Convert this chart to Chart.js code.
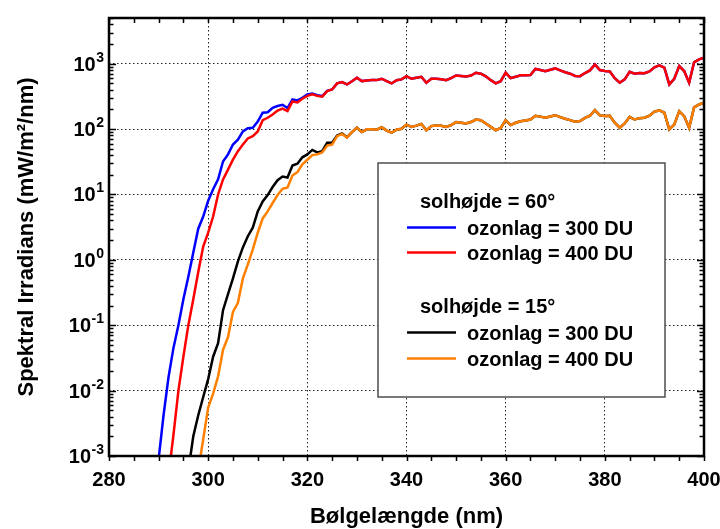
<!DOCTYPE html>
<html>
<head>
<meta charset="utf-8">
<script src="https://cdn.jsdelivr.net/npm/chart.js@4/dist/chart.umd.min.js"></script>
<style>
  html, body { margin: 0; padding: 0; background: #fff; }
  canvas { display: block; }
</style>
</head>
<body>
<canvas id="chart" width="720" height="529"></canvas>
<script>
// wavelength grid (nm)
const wavelengths = [
  290, 291, 292, 293, 294, 295, 296, 297, 298, 299,
  300, 301, 302, 303, 304, 305, 306, 307, 308, 309,
  310, 311, 312, 313, 314, 315, 316, 317, 318, 319,
  320, 321, 322, 323, 324, 325, 326, 327, 328, 329,
  330, 331, 332, 333, 334, 335, 336, 337, 338, 339,
  340, 341, 342, 343, 344, 345, 346, 347, 348, 349,
  350, 351, 352, 353, 354, 355, 356, 357, 358, 359,
  360, 361, 362, 363, 364, 365, 366, 367, 368, 369,
  370, 371, 372, 373, 374, 375, 376, 377, 378, 379,
  380, 381, 382, 383, 384, 385, 386, 387, 388, 389,
  390, 391, 392, 393, 394, 395, 396, 397, 398, 399,
  400
];

// solhøjde 60°, ozonlag 300 DU (blue)
const sun60oz300 = [
  0.00088, 0.0042, 0.016, 0.045, 0.1, 0.25, 0.55, 1.3, 3.0, 4.6,
  8.0, 12, 17, 32, 41, 58, 69, 92, 103, 105,
  130, 178, 181, 212, 225, 235, 210, 284, 275, 301,
  339, 351, 330, 320, 385, 404, 500, 523, 482, 540,
  611, 542, 555, 561, 561, 589, 540, 499, 560, 575,
  646, 589, 610, 631, 512, 589, 589, 580, 560, 600,
  662, 650, 635, 660, 728, 703, 640, 560, 500, 540,
  728, 600, 630, 665, 668, 672, 830, 800, 770, 810,
  847, 790, 740, 703, 650, 645, 720, 790, 976, 800,
  771, 760, 600, 512, 575, 753, 703, 720, 715, 760,
  880, 943, 869, 482, 589, 919, 771, 512, 1050, 1164,
  1236
];

// solhøjde 60°, ozonlag 400 DU (red)
const sun60oz400 = [
  null, null, 0.0005, 0.0021, 0.01, 0.033, 0.1, 0.25, 0.65, 1.6,
  2.6, 4.6, 10, 17, 24, 34, 46, 58, 72, 78,
  92, 137, 149, 167, 192, 205, 188, 265, 255, 291,
  322, 340, 322, 313, 380, 404, 500, 523, 482, 540,
  611, 542, 555, 561, 561, 589, 540, 499, 560, 575,
  646, 589, 610, 631, 512, 589, 589, 580, 560, 600,
  662, 650, 635, 660, 728, 703, 640, 560, 500, 540,
  728, 600, 630, 665, 668, 672, 830, 800, 770, 810,
  847, 790, 740, 703, 650, 645, 720, 790, 976, 800,
  771, 760, 600, 512, 575, 753, 703, 720, 715, 760,
  880, 943, 869, 482, 589, 919, 771, 512, 1050, 1164,
  1236
];

// solhøjde 15°, ozonlag 300 DU (black)
const sun15oz300 = [
  null, null, null, null, null, null, 0.0006, 0.002, 0.0042, 0.008,
  0.015, 0.033, 0.053, 0.17, 0.3, 0.52, 0.95, 1.55, 2.3, 3.1,
  5.5, 7.8, 9.8, 13, 16.5, 18.8, 18.2, 27.7, 29.5, 37,
  41, 48, 44, 46, 62, 62, 80, 86, 75, 90,
  105, 90, 99, 99, 98, 107, 95, 88, 98, 101,
  117, 108, 113, 120, 96, 111, 113, 112, 108, 115,
  128, 125, 122, 128, 140, 137, 122, 108, 96, 104,
  137, 115, 125, 132, 135, 140, 160, 155, 149, 156,
  163, 152, 144, 137, 130, 133, 148, 160, 195, 162,
  158, 160, 125, 105, 122, 154, 140, 147, 149, 160,
  185, 193, 178, 99, 117, 188, 158, 105, 215, 238,
  253
];

// solhøjde 15°, ozonlag 400 DU (orange)
const sun15oz400 = [
  null, null, null, null, null, null, null, null, 0.0006, 0.0018,
  0.0055, 0.009, 0.0166, 0.042, 0.066, 0.16, 0.22, 0.52, 0.85, 1.45,
  2.6, 4.3, 5.5, 7.4, 9.8, 12.2, 12.8, 19.5, 22, 29,
  34, 40, 41, 44, 56, 58, 78, 84, 74, 90,
  105, 90, 99, 99, 98, 107, 95, 88, 98, 101,
  117, 108, 113, 120, 96, 111, 113, 112, 108, 115,
  128, 125, 122, 128, 140, 137, 122, 108, 96, 104,
  137, 115, 125, 132, 135, 140, 160, 155, 149, 156,
  163, 152, 144, 137, 130, 133, 148, 160, 195, 162,
  158, 160, 125, 105, 122, 154, 140, 147, 149, 160,
  185, 193, 178, 99, 117, 188, 158, 105, 215, 238,
  253
];

const xTicks = [280, 300, 320, 340, 360, 380, 400];
const yTicks = [0.001, 0.01, 0.1, 1, 10, 100, 1000];
const legendTitles = ['solhøjde = 60°', 'solhøjde = 15°'];
const seriesLabels = ['ozonlag = 300 DU', 'ozonlag = 400 DU', 'ozonlag = 300 DU', 'ozonlag = 400 DU'];
const seriesColors = ['#0000ff', '#ff0000', '#000000', '#ff8000'];

const FONT = '"Liberation Sans", Arial, Helvetica, sans-serif';

function toPoints(values) {
  return wavelengths
    .map((w, i) => ({ x: w, y: values[i] }))
    .filter(p => p.y !== null);
}

// frame, inside/outside tick marks and 10^n labels
const framePlugin = {
  id: 'frame',
  afterDraw(chart) {
    const { ctx, chartArea: a, scales } = chart;
    const xs = scales.x, ys = scales.y;
    ctx.save();
    ctx.strokeStyle = '#000';
    ctx.lineWidth = 1.5;

    // x ticks every 5 nm: out at bottom, in at top
    for (let v = 280; v <= 400; v += 5) {
      const px = Math.round(xs.getPixelForValue(v)) + 0.5;
      const len = 5;
      ctx.beginPath();
      ctx.moveTo(px, a.bottom); ctx.lineTo(px, a.bottom + len);
      ctx.moveTo(px, a.top); ctx.lineTo(px, a.top + len);
      ctx.stroke();
    }

    // log ticks on both y sides, pointing in
    for (const d of yTicks) {
      for (let k = 1; k <= 9; k++) {
        const v = d * k;
        if (v > ys.max) break;
        const py = Math.round(ys.getPixelForValue(v)) + 0.5;
        const len = k === 1 ? 7 : 4.5;
        ctx.beginPath();
        ctx.moveTo(a.left, py); ctx.lineTo(a.left + len, py);
        ctx.moveTo(a.right, py); ctx.lineTo(a.right - len, py);
        ctx.stroke();
      }
    }

    ctx.lineWidth = 2.5;
    ctx.strokeRect(a.left, a.top, a.right - a.left, a.bottom - a.top);

    // y tick labels with superscript exponents
    ctx.fillStyle = '#000';
    ctx.textAlign = 'right';
    ctx.textBaseline = 'alphabetic';
    for (const v of yTicks) {
      const py = ys.getPixelForValue(v);
      const exp = String(Math.round(Math.log10(v)));
      ctx.font = 'bold 14px ' + FONT;
      const right = a.left - 5;
      ctx.fillText(exp, right, py - 2);
      const ew = ctx.measureText(exp).width;
      ctx.font = 'bold 20px ' + FONT;
      ctx.fillText('10', right - ew - 0.5, py + 7);
    }
    ctx.restore();
  }
};

// grouped legend box
const legendPlugin = {
  id: 'groupLegend',
  afterDraw(chart) {
    const ctx = chart.ctx;
    ctx.save();
    ctx.fillStyle = '#fff';
    ctx.fillRect(378, 163, 287, 234);
    ctx.strokeStyle = '#4d4d4d';
    ctx.lineWidth = 1.5;
    ctx.strokeRect(378, 163, 287, 234);

    ctx.font = 'bold 20px ' + FONT;
    ctx.textAlign = 'left';
    ctx.textBaseline = 'alphabetic';
    const groups = [
      { title: 0, base: 208, rows: [[0, 235], [1, 260]] },
      { title: 1, base: 313, rows: [[2, 340], [3, 366]] }
    ];
    for (const g of groups) {
      ctx.fillStyle = '#000';
      ctx.fillText(legendTitles[g.title], 420, g.base);
      for (const [i, b] of g.rows) {
        ctx.strokeStyle = seriesColors[i];
        ctx.lineWidth = 2.5;
        ctx.beginPath();
        ctx.moveTo(407, b - 7.5);
        ctx.lineTo(456, b - 7.5);
        ctx.stroke();
        ctx.fillStyle = '#000';
        ctx.fillText(seriesLabels[i], 467, b);
      }
    }
    ctx.restore();
  }
};

const seriesData = [sun60oz300, sun60oz400, sun15oz300, sun15oz400];
// lower order draws on top: red over blue, orange over black
const drawOrder = [1, 0, 1, 0];

new Chart(document.getElementById('chart'), {
  type: 'line',
  data: {
    datasets: seriesData.map((vals, i) => ({
      label: seriesLabels[i],
      data: toPoints(vals),
      borderColor: seriesColors[i],
      borderWidth: 2.5,
      pointRadius: 0,
      tension: 0,
      fill: false,
      order: drawOrder[i]
    }))
  },
  options: {
    responsive: false,
    animation: false,
    devicePixelRatio: 1,
    layout: { padding: { left: 0, top: 18, right: 16, bottom: 0 } },
    plugins: { legend: { display: false }, tooltip: { enabled: false } },
    scales: {
      x: {
        type: 'linear',
        min: 280,
        max: 400,
        afterBuildTicks: axis => { axis.ticks = xTicks.map(v => ({ value: v })); },
        afterFit: axis => { axis.height = 73; axis.paddingLeft = 0; axis.paddingRight = 0; },
        ticks: {
          color: '#000',
          font: { family: FONT, size: 20, weight: 'bold' },
          padding: 12,
          maxRotation: 0,
          autoSkip: false
        },
        grid: { color: '#222', lineWidth: 1, drawTicks: false },
        border: { display: false, dash: [1.5, 2.5] },
        title: {
          display: true,
          text: 'Bølgelængde (nm)',
          color: '#000',
          font: { family: FONT, size: 22, weight: 'bold' },
          padding: { top: 0, bottom: -1 }
        }
      },
      y: {
        type: 'logarithmic',
        min: 0.001,
        max: 5000,
        afterBuildTicks: axis => { axis.ticks = yTicks.map(v => ({ value: v })); },
        afterFit: axis => { axis.width = 109; axis.paddingTop = 0; axis.paddingBottom = 0; },
        ticks: { display: false },
        grid: { color: '#222', lineWidth: 1, drawTicks: false },
        border: { display: false, dash: [1.5, 2.5] },
        title: {
          display: true,
          text: 'Spektral Irradians (mW/m²/nm)',
          color: '#000',
          font: { family: FONT, size: 22, weight: 'bold' },
          padding: { top: 14, bottom: 0 }
        }
      }
    }
  },
  plugins: [framePlugin, legendPlugin]
});
</script>
</body>
</html>
